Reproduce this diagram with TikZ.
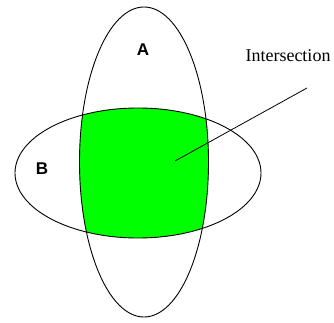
\documentclass[tikz,border=0pt]{standalone}
\usepackage{fontspec}
\setmainfont{Liberation Serif}
\setsansfont{Liberation Sans}
\begin{document}
\begin{tikzpicture}[x=1pt,y=-1pt,
  outline/.style={draw=black,line width=0.9pt},
  setlabel/.style={font=\sffamily\bfseries\fontsize{17}{17}\selectfont,inner sep=0pt},
  callout/.style={font=\fontsize{18}{18}\selectfont,inner sep=0pt}]
\useasboundingbox (0,0) rectangle (334,323);
\begin{scope}
  \clip (144,162) ellipse [x radius=64.5, y radius=155];
  \fill[green] (138,173) ellipse [x radius=123, y radius=65];
\end{scope}
\draw[outline] (144,162) ellipse [x radius=64.5, y radius=155];
\draw[outline] (138,173) ellipse [x radius=123, y radius=65];
\node[setlabel] (A) at (143,50) {A};
\node[setlabel] (B) at (42,169) {B};
\node[callout] (I) at (288,56) {Intersection};
\coordinate (p1) at (307,88);
\coordinate (p2) at (175,161);
\draw[line width=0.8pt] (p1) -- (p2);
\end{tikzpicture}
\end{document}
